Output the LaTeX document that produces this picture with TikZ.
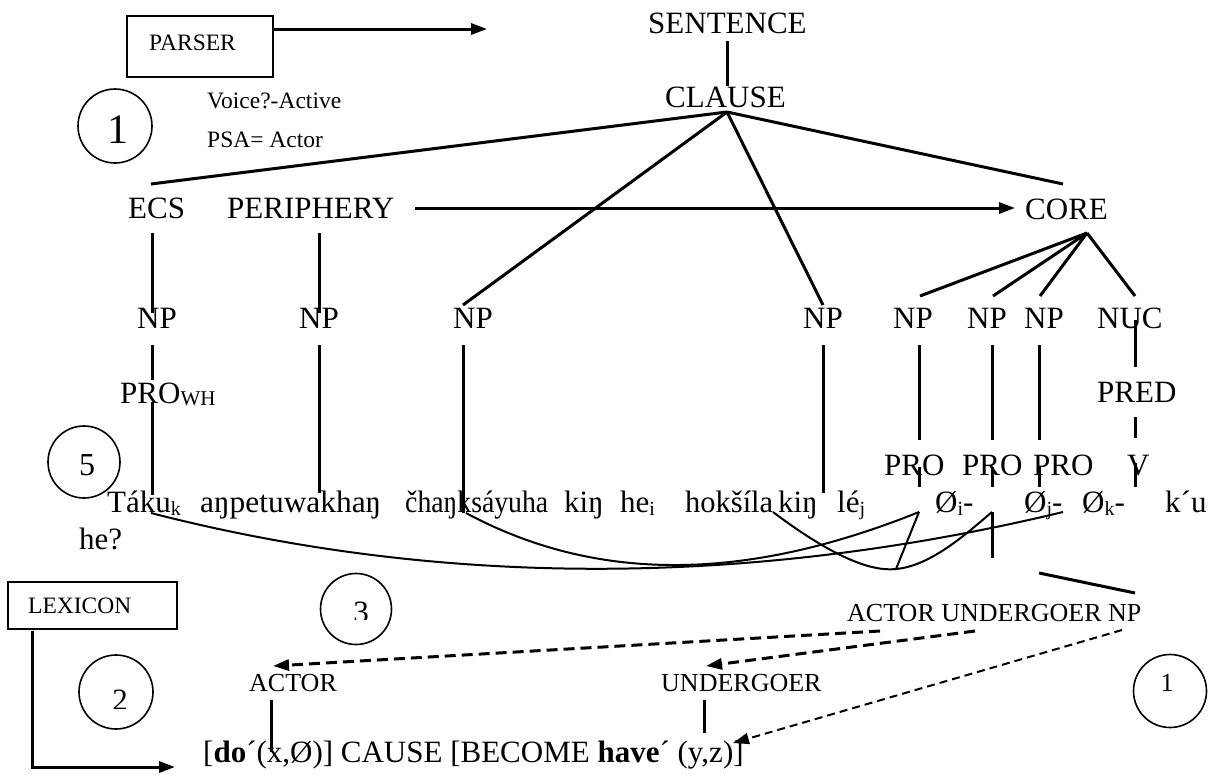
\documentclass[tikz,border=0pt]{standalone}
\usepackage{fontspec}
\setmainfont{Liberation Serif}
\usetikzlibrary{arrows.meta}
\newcommand\sbs[1]{\raisebox{-0.12em}{\fontsize{20}{20}\selectfont #1}}
\newcommand\fitw[2]{\resizebox{#1}{\height}{#2}}
\begin{document}
\begin{tikzpicture}[x=1pt,y=-1pt,
  big/.style={font=\fontsize{31}{31}\selectfont, inner sep=0pt, anchor=base west},
  mid/.style={font=\fontsize{26}{26}\selectfont, inner sep=0pt, anchor=base west},
  small/.style={font=\fontsize{23.5}{23.5}\selectfont, inner sep=0pt, anchor=base west},
  digit/.style={font=\fontsize{31}{31}\selectfont, inner sep=0pt},
  tree/.style={line width=3pt},
  link/.style={line width=2pt},
  ring/.style={draw, circle, line width=1.6pt, inner sep=0pt},
  framebox/.style={draw, line width=2pt, inner sep=0pt},
  arr/.style={-{Triangle[length=16pt,width=11pt]}},
  dsh/.style={dash pattern=on 11pt off 6pt, line width=3pt},
  thindsh/.style={dash pattern=on 8pt off 5pt, line width=2pt}
]
\useasboundingbox (0,0) rectangle (1215,774);

% ---------- boxes and circles ----------
\node[framebox, minimum width=146pt, minimum height=61pt] (parser) at (200,46.5) {};
\node[small] (parsert) at (149,50) {PARSER};
\node[framebox, minimum width=169pt, minimum height=47pt] (lexicon) at (92.5,605.5) {};
\node[small] (lexicont) at (28,613) {LEXICON};

\node[ring, minimum size=74pt] (c1) at (115,126) {};
\node[digit, font=\fontsize{42}{42}\selectfont] (d1) at (118,130) {1};
\node[ring, minimum size=72pt] (c5) at (84,462) {};
\node[digit, font=\fontsize{32}{32}\selectfont] (d5) at (87,465) {5};
\node[ring, minimum size=71pt] (c3) at (356,609) {};
\begin{scope}
  \clip (320,590) rectangle (395,619);
  \node[digit] (d3) at (361,612) {3};
\end{scope}
\node[ring, minimum size=74pt] (c2) at (116,692) {};
\begin{scope}
  \clip (85,670) rectangle (150,708);
  \node[digit] (d2) at (120,700.5) {2};
\end{scope}
\node[ring, minimum size=73pt] (c1b) at (1170,691) {};
\node[digit, font=\fontsize{26}{26}\selectfont] (d1b) at (1167,683) {1};

\node[small] (voice) at (207,108) {Voice?-Active};
\node[small] (psa) at (207,147) {PSA= Actor};

% ---------- tree labels ----------
\node[big] (sentence) at (648,33) {SENTENCE};
\node[big] (clause) at (665,107) {CLAUSE};
\node[big] (ecs) at (128,218) {ECS};
\node[big] (periphery) at (227,218) {PERIPHERY};
\node[big] (core) at (1025,219) {CORE};
\node[big] (np1) at (137,328) {NP};
\node[big] (np2) at (299,328) {NP};
\node[big] (np3) at (453,328) {NP};
\node[big] (np4) at (803,328) {NP};
\node[big] (np5) at (893,328) {NP};
\node[big] (np6) at (967,328) {NP};
\node[big] (np7) at (1024,328) {NP};
\node[big] (nuc) at (1097,328) {NUC};
\node[big] (prowh) at (120,403) {PRO\raisebox{-2pt}{\fontsize{21}{21}\selectfont WH}};
\node[big] (pred) at (1097,402) {PRED};
\node[big] (pro1) at (884,475) {PRO};
\node[big] (pro2) at (962,475) {PRO};
\node[big] (pro3) at (1033,475) {PRO};
\node[big] (verb) at (1127,475) {V};

% ---------- sentence ----------
\node[big] (w1) at (107,512) {Táku\sbs{k}};
\node[big] (w2) at (200,512) {\fitw{181pt}{aŋpetuwakhaŋ}};
\node[big] (w3) at (405,512) {\fitw{143pt}{čhaŋksáyuha}};
\node[big] (w4) at (564,512) {kiŋ};
\node[big] (w5) at (620,512) {he\sbs{i}};
\node[big] (w6) at (685,512) {\fitw{88pt}{hokšíla}};
\node[big] (w7) at (778,512) {kiŋ};
\node[big] (w8) at (837,512) {lé\sbs{j}};
\node[big] (w9) at (935,512) {Ø\sbs{i}-};
\node[big] (w10) at (1024,512) {Ø\sbs{j}-};
\node[big] (w11) at (1082,512) {Ø\sbs{k}-};
\node[big] (w12) at (1165,512) {k´u};
\node[big] (w13) at (79,549) {he?};

% ---------- lower part ----------
\node[mid] (aunp) at (847,621) {ACTOR UNDERGOER NP};
\node[mid] (actor) at (249,691) {ACTOR};
\node[mid] (undergoer) at (661,691) {UNDERGOER};
\node[big] (lsr) at (203,762) {[\textbf{do}´(x,Ø)] CAUSE [BECOME \textbf{have}´ (y,z)]};

% ---------- coordinates ----------
\coordinate (pa1) at (273,29);  \coordinate (pa2) at (487,29);
\coordinate (s1) at (727,41);   \coordinate (s2) at (727,86);
\coordinate (cl) at (727,112);
\coordinate (ecsT) at (151,184); \coordinate (np3T) at (463,305);
\coordinate (np4T) at (823,305); \coordinate (coreT) at (1063,184);
\coordinate (per1) at (415,208); \coordinate (per2) at (1015,208);
\coordinate (e1) at (152,233); \coordinate (e2) at (152,313);
\coordinate (p1) at (319,233); \coordinate (p2) at (319,313);
\coordinate (co) at (1087,233);
\coordinate (n5T) at (920,296); \coordinate (n6T) at (993,296);
\coordinate (n7T) at (1040,296); \coordinate (nucT) at (1135,296);

% ---------- tree lines ----------
\draw[tree, arr] (parser.east |- pa1) -- (pa2);
\draw[tree] (s1) -- (s2);
\draw[tree] (cl) -- (ecsT);
\draw[tree] (cl) -- (np3T);
\draw[tree] (cl) -- (np4T);
\draw[tree] (cl) -- (coreT);
\draw[tree, arr] (per1) -- (per2);
\draw[tree] (e1) -- (e2);
\draw[tree] (p1) -- (p2);
\draw[tree] (co) -- (n5T);
\draw[tree] (co) -- (n6T);
\draw[tree] (co) -- (n7T);
\draw[tree] (co) -- (nucT);

\draw[tree] (152,345) coordinate (a1) -- (152,380) coordinate (a2);
\draw[tree] (152,402) coordinate (a3) -- (152,495) coordinate (a4);
\draw[tree] (319,345) coordinate (b1) -- (319,493) coordinate (b2);
\draw[tree] (463,345) coordinate (b3) -- (463,513) coordinate (b4);
\draw[tree] (823,345) coordinate (b5) -- (823,493) coordinate (b6);
\draw[tree] (919,345) coordinate (f1) -- (919,440) coordinate (f2);
\draw[tree] (919,467) coordinate (f3) -- (919,487) coordinate (f4);
\draw[tree] (992,345) coordinate (g1) -- (992,440) coordinate (g2);
\draw[tree] (992,467) coordinate (g3) -- (992,487) coordinate (g4);
\draw[tree] (992,512) coordinate (g5) -- (992,558) coordinate (g6);
\draw[tree] (1039,345) coordinate (h1) -- (1039,440) coordinate (h2);
\draw[tree] (1039,467) coordinate (h3) -- (1039,487) coordinate (h4);
\draw[tree] (1135,320) coordinate (k1) -- (1135,367) coordinate (k2);
\draw[tree] (1135,417) coordinate (k3) -- (1135,438) coordinate (k4);
\draw[tree] (1135,463) coordinate (k5) -- (1135,487) coordinate (k6);
\draw[tree] (1039,573) coordinate (m1) -- (1135,593) coordinate (m2);

% ---------- linking curves ----------
\coordinate (tk) at (151,513);  \coordinate (okj) at (1063,512);
\coordinate (ch) at (466,513);  \coordinate (oi) at (919,512);
\coordinate (ho) at (773,512);  \coordinate (bot) at (896,569);
\coordinate (oj) at (992,512);
\draw[link] (tk) .. controls (450,590) and (760,585) .. (okj);
\draw[link] (ch) .. controls (600,585) and (750,580) .. (oi);
\draw[link] (oi) -- (bot);
\draw[link] (ho) .. controls (830,555) and (870,572) .. (bot)
                 .. controls (930,566) and (965,535) .. (oj);

% ---------- dashed mapping arrows ----------
\coordinate (da1) at (880,631); \coordinate (da2) at (273,666);
\coordinate (db1) at (975,631); \coordinate (db2) at (706,666);
\coordinate (dc1) at (1122,630); \coordinate (dc2) at (733,743);
\draw[dsh, arr] (da1) -- (da2);
\draw[dsh, arr] (db1) -- (db2);
\draw[thindsh, arr] (dc1) -- (dc2);

\draw[tree] (271,700) coordinate (ac1) -- (271,752) coordinate (ac2);
\draw[tree] (704,700) coordinate (ug1) -- (704,733) coordinate (ug2);

% ---------- lexicon arrow ----------
\coordinate (lx1) at (32,631); \coordinate (lx2) at (32,767); \coordinate (lx3) at (175,767);
\draw[tree, arr] (lx1) -- (lx2) -- (lx3);
\end{tikzpicture}
\end{document}
